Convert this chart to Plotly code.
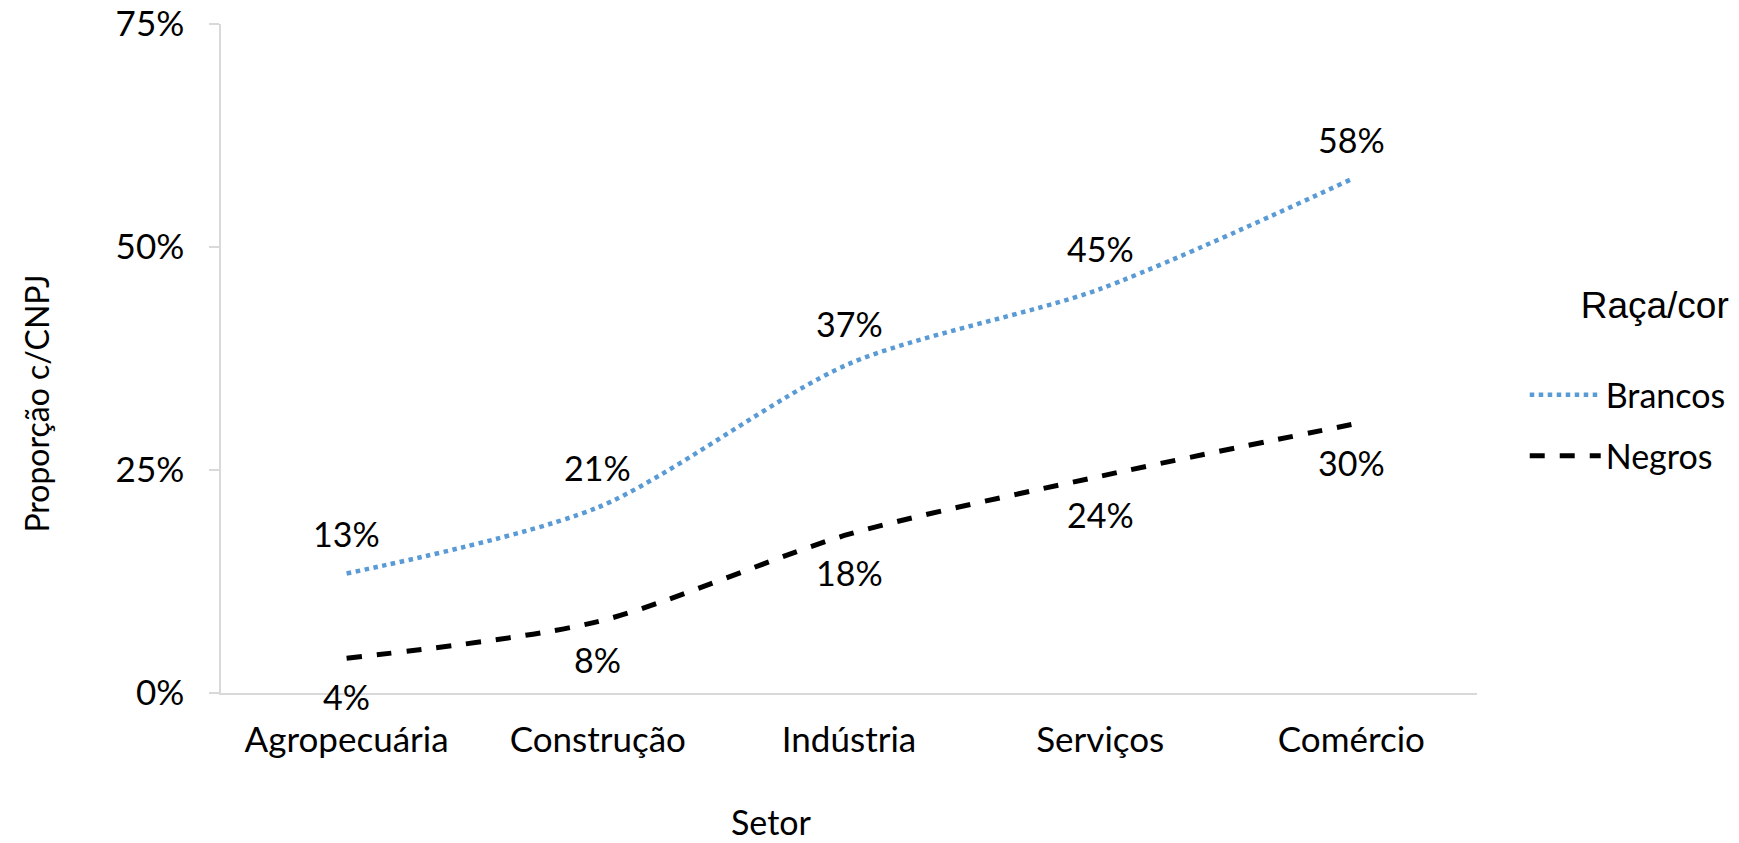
import plotly.graph_objects as go

setores = ["Agropecuária", "Construção", "Indústria", "Serviços", "Comércio"]
brancos = [13.4, 20.8, 36.9, 45.3, 57.6]
negros = [3.9, 8.0, 17.8, 24.3, 30.1]
y_ticks = [0, 25, 50, 75]
y_tick_labels = ["0%", "25%", "50%", "75%"]

FONT = "Lato, Calibri, sans-serif"

fig = go.Figure()
fig.add_trace(go.Scatter(
    x=setores, y=brancos, name="Brancos", mode="lines", legendgroup="b",
    line=dict(color="#5B9BD5", width=4.5, dash="dot", shape="spline", smoothing=0.8),
))
fig.add_trace(go.Scatter(
    x=setores, y=negros, name="Negros", mode="lines", legendgroup="n",
    line=dict(color="#000000", width=5, dash="dash", shape="spline", smoothing=0.8),
))

for s, v in zip(setores, brancos):
    fig.add_annotation(x=s, y=v, text=f"{round(v):d}%", showarrow=False, yshift=40,
                       font=dict(family=FONT, size=34, color="#000"))
for s, v in zip(setores, negros):
    fig.add_annotation(x=s, y=v, text=f"{round(v):d}%", showarrow=False, yshift=-38,
                       font=dict(family=FONT, size=34, color="#000"))

# axis titles
fig.add_annotation(xref="paper", yref="paper", x=0.438, y=-0.1928, text="Setor",
                   xanchor="center", yanchor="middle",
                   showarrow=False, font=dict(family=FONT, size=34, color="#000"))
fig.add_annotation(xref="paper", yref="paper", x=-0.1468, y=0.432, text="Proporção c/CNPJ",
                   xanchor="center", yanchor="middle",
                   textangle=-90, showarrow=False, font=dict(family=FONT, size=32, color="#000"))

fig.update_layout(
    width=1739, height=843,
    margin=dict(l=221, r=262, t=24, b=150, autoexpand=False),
    paper_bgcolor="white", plot_bgcolor="white",
    font=dict(family=FONT, size=34, color="#000"),
    showlegend=True,
    legend=dict(
        title=dict(text="Raça/cor<br><span style='font-size:11px'> </span>",
                   font=dict(family="Liberation Sans, Arial", size=37), side="top right"),
        x=1.038, xanchor="left", y=0.6325, yanchor="top",
        font=dict(family=FONT, size=34),
        itemwidth=71, traceorder="grouped", tracegroupgap=14,
    ),
    xaxis=dict(
        type="category", range=[-0.5, 4.5], automargin=False,
        showline=True, linecolor="#d9d9d9", linewidth=1.5,
        showgrid=False, ticks="", zeroline=False,
        tickfont=dict(family=FONT, size=35),
        ticklabelstandoff=15, ticklabeloverflow="allow",
    ),
    yaxis=dict(
        range=[0, 75], tickvals=y_ticks, ticktext=y_tick_labels, automargin=False,
        showline=True, linecolor="#d9d9d9", linewidth=1.5,
        ticks="outside", ticklen=10, tickcolor="#d9d9d9", tickwidth=1.5,
        showgrid=False, zeroline=False,
        tickfont=dict(family=FONT, size=35),
        ticklabelstandoff=18, ticklabeloverflow="allow",
    ),
)

fig.write_html("out.html", config={"displayModeBar": False},
               post_script="document.body.style.margin='0';")
